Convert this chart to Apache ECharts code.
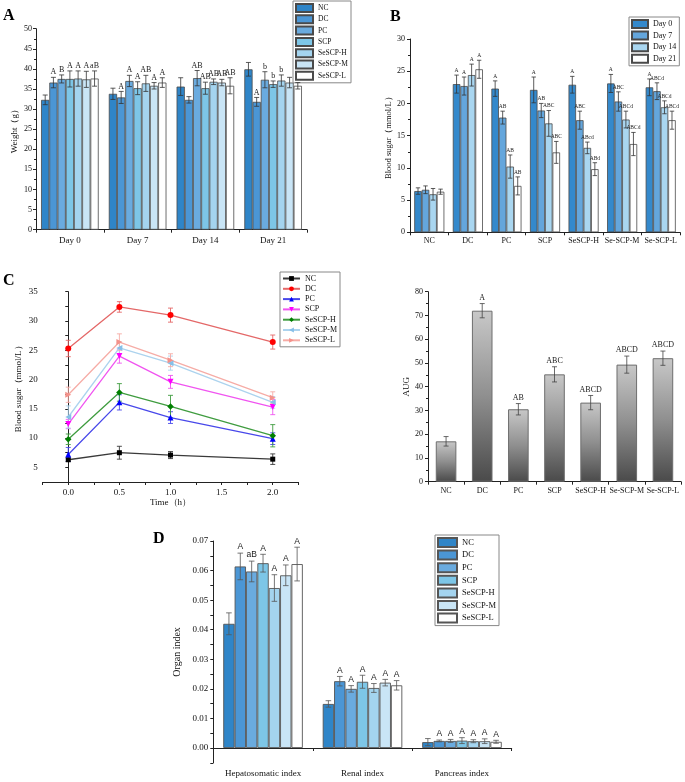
<!DOCTYPE html>
<html><head><meta charset="utf-8">
<script src="https://cdn.jsdelivr.net/npm/echarts@6/dist/echarts.min.js"></script>
<style>html,body{margin:0;padding:0;background:#fff}#c{width:685px;height:782px}</style>
</head><body><div id="c"></div>
<script>
// ---------- DATA ----------
const groupNames = ['NC','DC','PC','SCP','SeSCP-H','SeSCP-M','SeSCP-L'];

// Panel A: body weight (g)
const weightDays = ['Day 0','Day 7','Day 14','Day 21'];
const weightNC  = [32.3, 33.8, 35.6, 39.9];
const weightDC  = [36.6, 32.9, 32.3, 31.8];
const weightPC  = [37.5, 37.0, 37.7, 37.3];
const weightSCP = [37.5, 35.2, 35.2, 36.2];
const weightH   = [37.6, 36.4, 36.8, 37.1];
const weightM   = [37.4, 35.8, 36.6, 36.6];
const weightL   = [37.6, 36.6, 35.8, 35.8];
const weightErrNC  = [1.2, 1.4, 2.2, 1.7];
const weightErrDC  = [1.3, 1.5, 0.8, 1.1];
const weightErrPC  = [1.0, 1.4, 1.9, 2.0];
const weightErrSCP = [2.0, 1.6, 1.5, 0.8];
const weightErrH   = [1.9, 2.0, 0.7, 1.4];
const weightErrM   = [2.0, 0.8, 0.8, 1.3];
const weightErrL   = [1.9, 1.2, 2.0, 0.8];
const weightLblNC  = ['', '', '', ''];
const weightLblDC  = ['A', 'A', '', 'A'];
const weightLblPC  = ['B', 'A', 'AB', 'b'];
const weightLblSCP = ['A', 'A', 'AB', 'b'];
const weightLblH   = ['A', 'AB', 'AB', 'b'];
const weightLblM   = ['A', 'A', 'AB', ''];
const weightLblL   = ['aB', 'A', 'AB', ''];

// Panel B: blood sugar by group and day (mmol/L)
const sugarGroups = ['NC','DC','PC','SCP','SeSCP-H','Se-SCP-M','Se-SCP-L'];
const dayNames = ['Day 0','Day 7','Day 14','Day 21'];
const sugarDay0  = [6.4, 23.0, 22.3, 22.1, 22.9, 23.1, 22.5];
const sugarDay7  = [6.6, 22.7, 17.8, 18.9, 17.4, 20.3, 21.9];
const sugarDay14 = [5.9, 24.4, 10.2, 16.9, 13.1, 17.5, 19.4];
const sugarDay21 = [6.3, 25.3, 7.2, 12.4, 9.8, 13.7, 17.4];
const sugarErrDay0  = [0.5, 1.4, 1.2, 2.0, 1.3, 1.4, 1.3];
const sugarErrDay7  = [0.6, 1.4, 1.0, 1.1, 1.4, 1.5, 1.3];
const sugarErrDay14 = [0.9, 1.7, 1.8, 2.0, 0.9, 1.3, 1.0];
const sugarErrDay21 = [0.4, 1.4, 1.4, 1.7, 1.0, 1.8, 1.4];
const sugarLblDay0  = ['', 'A', 'A', 'A', 'A', 'A', 'A'];
const sugarLblDay7  = ['', 'A', 'AB', 'AB', 'ABC', 'ABC', 'ABCd'];
const sugarLblDay14 = ['', 'A', 'AB', 'ABC', 'ABcd', 'ABCd', 'ABCd'];
const sugarLblDay21 = ['', 'A', 'AB', 'ABC', 'ABd', 'ABCd', 'ABCd'];

// Panel C: OGTT blood sugar (mmol/L)
const ogttTimes = [0, 0.5, 1.0, 2.0];
const ogttNC  = [6.3, 7.5, 7.1, 6.4];
const ogttDC  = [25.3, 32.4, 31.0, 26.4];
const ogttPC  = [7.2, 16.1, 13.5, 9.9];
const ogttSCP = [12.4, 24.0, 19.6, 15.3];
const ogttH   = [9.8, 17.8, 15.4, 10.4];
const ogttM   = [13.6, 25.4, 22.8, 16.1];
const ogttL   = [17.4, 26.4, 23.3, 16.9];
const ogttErrNC  = [0.3, 1.1, 0.6, 0.9];
const ogttErrDC  = [1.4, 0.9, 1.2, 1.2];
const ogttErrPC  = [1.2, 1.3, 1.0, 1.0];
const ogttErrSCP = [0.8, 1.2, 1.1, 1.3];
const ogttErrH   = [0.9, 1.5, 1.9, 1.9];
const ogttErrM   = [1.9, 1.0, 1.2, 1.0];
const ogttErrL   = [1.3, 1.4, 1.1, 1.0];

// Panel AUG
const augGroups = ['NC','DC','PC','SCP','SeSCP-H','Se-SCP-M','Se-SCP-L'];
const augValues = [17.0, 72.0, 30.5, 45.2, 33.3, 49.3, 52.0];
const augErrors = [2.0, 3.0, 2.4, 3.2, 3.0, 3.6, 3.0];
const augLabels = ['', 'A', 'AB', 'ABC', 'ABCD', 'ABCD', 'ABCD'];

// Panel D: organ index
const organNames = ['Hepatosomatic index','Renal index','Pancreas index'];
const organNC  = [0.0420, 0.0149, 0.0020];
const organDC  = [0.0614, 0.0226, 0.0024];
const organPC  = [0.0597, 0.0200, 0.0024];
const organSCP = [0.0625, 0.0224, 0.0025];
const organH   = [0.0541, 0.0203, 0.0023];
const organM   = [0.0584, 0.0221, 0.0023];
const organL   = [0.0622, 0.0212, 0.0021];
const organErrNC  = [0.0037, 0.0011, 0.0012];
const organErrDC  = [0.0045, 0.0016, 0.0003];
const organErrPC  = [0.0035, 0.0011, 0.0005];
const organErrSCP = [0.0030, 0.0022, 0.0010];
const organErrH   = [0.0045, 0.0015, 0.0005];
const organErrM   = [0.0035, 0.0011, 0.0008];
const organErrL   = [0.0057, 0.0016, 0.0005];
const organLblNC  = ['', '', ''];
const organLblDC  = ['A', 'A', 'A'];
const organLblPC  = ['aB', 'A', 'A'];
const organLblSCP = ['A', 'A', 'A'];
const organLblH   = ['A', 'A', 'A'];
const organLblM   = ['A', 'A', 'A'];
const organLblL   = ['A', 'A', 'A'];

// ---------- STYLE ----------
const SERIF = 'Liberation Serif';
const barColors = ['#2f85c8','#4b96d5','#6aabdf','#7dc6e7','#a4d4ef','#c9e5f6','#ffffff'];
const dayColors = ['#3489cc','#64a6dc','#a9d6f0','#ffffff'];
const markColors = ['#000000','#ff0000','#0000ff','#ff00ff','#008000','#86bfe8','#f4918a'];
const lineColors = ['#3a3a3a','#e46868','#4848ea','#f055f0','#3f9c3f','#acd3ee','#f6aca6'];
const symbols = ['rect','circle','triangle','path://M0,0L10,0L5,9Z','diamond','path://M9,0L9,10L0,5Z','path://M0,0L0,10L9,5Z'];

const weightMeans = [weightNC, weightDC, weightPC, weightSCP, weightH, weightM, weightL];
const weightErrs = [weightErrNC, weightErrDC, weightErrPC, weightErrSCP, weightErrH, weightErrM, weightErrL];
const weightLbls = [weightLblNC, weightLblDC, weightLblPC, weightLblSCP, weightLblH, weightLblM, weightLblL];
const sugarMeans = [sugarDay0, sugarDay7, sugarDay14, sugarDay21];
const sugarErrs = [sugarErrDay0, sugarErrDay7, sugarErrDay14, sugarErrDay21];
const sugarLbls = [sugarLblDay0, sugarLblDay7, sugarLblDay14, sugarLblDay21];
const ogttMeans = [ogttNC, ogttDC, ogttPC, ogttSCP, ogttH, ogttM, ogttL];
const ogttErrs = [ogttErrNC, ogttErrDC, ogttErrPC, ogttErrSCP, ogttErrH, ogttErrM, ogttErrL];
const organMeans = [organNC, organDC, organPC, organSCP, organH, organM, organL];
const organErrs = [organErrNC, organErrDC, organErrPC, organErrSCP, organErrH, organErrM, organErrL];
const organLbls = [organLblNC, organLblDC, organLblPC, organLblSCP, organLblH, organLblM, organLblL];

function errSeries(ax, means, errs, lbls, opt) {
  const data = [], labels = [];
  means.forEach((arr, si) => arr.forEach((v, ci) => {
    data.push([ci, v, errs[si][ci], si]);
    labels.push(lbls ? lbls[si][ci] : '');
  }));
  return {
    type: 'custom', xAxisIndex: ax, yAxisIndex: ax, silent: true, clip: false, z: 10,
    data: data,
    renderItem: function (params, api) {
      const cat = api.value(0), m = api.value(1), e = api.value(2), si = api.value(3);
      const c = api.coord([cat, m]);
      const band = api.size([1, 0])[0];
      const gw = band * (1 - opt.gap);
      const bw = gw / opt.n;
      const x = c[0] - gw / 2 + bw * (si + 0.5);
      const yt = api.coord([cat, m + e])[1], yb = api.coord([cat, m - e])[1];
      const st = { stroke: opt.color, lineWidth: opt.lw };
      const cap = opt.cap;
      const ch = [
        { type: 'line', shape: { x1: x, y1: yt, x2: x, y2: yb }, style: st },
        { type: 'line', shape: { x1: x - cap, y1: yt, x2: x + cap, y2: yt }, style: st },
        { type: 'line', shape: { x1: x - cap, y1: yb, x2: x + cap, y2: yb }, style: st }
      ];
      const t = labels[params.dataIndex];
      if (t) ch.push({ type: 'text', x: x, y: yt - opt.lgap,
        style: { text: t, fill: '#222', font: opt.font, align: 'center', verticalAlign: 'bottom',
                 textAlign: 'center', textVerticalAlign: 'bottom' } });
      return { type: 'group', children: ch };
    }
  };
}

function lineErrSeries(ax, xs, vals, errs, color) {
  return {
    type: 'custom', xAxisIndex: ax, yAxisIndex: ax, silent: true, clip: false, z: 3,
    data: xs.map((x, i) => [x, vals[i], errs[i]]),
    renderItem: function (params, api) {
      const x = api.coord([api.value(0), api.value(1)])[0];
      const yt = api.coord([api.value(0), api.value(1) + api.value(2)])[1];
      const yb = api.coord([api.value(0), api.value(1) - api.value(2)])[1];
      const st = { stroke: color, lineWidth: 0.9 };
      return { type: 'group', children: [
        { type: 'line', shape: { x1: x, y1: yt, x2: x, y2: yb }, style: st },
        { type: 'line', shape: { x1: x - 2.5, y1: yt, x2: x + 2.5, y2: yt }, style: st },
        { type: 'line', shape: { x1: x - 2.5, y1: yb, x2: x + 2.5, y2: yb }, style: st }
      ] };
    }
  };
}

const axLine = { show: true, lineStyle: { color: '#222', width: 1 } };
const tickOut = { show: true, length: 3, lineStyle: { color: '#222', width: 1 } };
const minorT = { show: true, splitNumber: 2, length: 2, lineStyle: { color: '#222', width: 1 } };

function catX(grid, cats, fs, margin) {
  return { type: 'category', gridIndex: grid, data: cats, axisLine: axLine, axisTick: tickOut,
    axisLabel: { interval: 0, fontSize: fs, color: '#111', margin: margin, fontFamily: SERIF },
    splitLine: { show: false } };
}

const series = [];
// A bars
weightMeans.forEach((arr, i) => series.push({
  type: 'bar', name: groupNames[i] + '|A', xAxisIndex: 0, yAxisIndex: 0, data: arr,
  barGap: '0%', barCategoryGap: '15%',
  itemStyle: { color: barColors[i], borderColor: '#4a4a4a', borderWidth: 0.8 },
  emphasis: { disabled: true }
}));
series.push(errSeries(0, weightMeans, weightErrs, weightLbls,
  { n: 7, gap: 0.15, color: '#333', lw: 0.8, cap: 2.5, lgap: 1, font: '8px "Liberation Serif"' }));
// B bars
sugarMeans.forEach((arr, i) => series.push({
  type: 'bar', name: dayNames[i] + '|B', xAxisIndex: 1, yAxisIndex: 1, data: arr,
  barGap: '0%', barCategoryGap: '22%',
  itemStyle: { color: dayColors[i], borderColor: '#4a4a4a', borderWidth: 0.8 },
  emphasis: { disabled: true }
}));
series.push(errSeries(1, sugarMeans, sugarErrs, sugarLbls,
  { n: 4, gap: 0.22, color: '#333', lw: 0.8, cap: 2.2, lgap: 1.5, font: '5.5px "Liberation Serif"' }));
// C lines
ogttMeans.forEach((arr, i) => {
  series.push(lineErrSeries(2, ogttTimes, arr, ogttErrs[i], lineColors[i]));
  series.push({
    type: 'line', name: groupNames[i] + '|C', xAxisIndex: 2, yAxisIndex: 2,
    data: ogttTimes.map((t, k) => [t, arr[k]]),
    symbol: symbols[i], symbolSize: i === 0 ? 5 : (i === 4 ? 6.5 : 6),
    itemStyle: { color: markColors[i] }, lineStyle: { color: lineColors[i], width: 1.3 },
    emphasis: { disabled: true }, z: 5
  });
});
// AUG bars
series.push({
  type: 'bar', name: 'AUG', xAxisIndex: 3, yAxisIndex: 3, data: augValues,
  barCategoryGap: '43%',
  itemStyle: {
    color: new echarts.graphic.LinearGradient(0, 0, 0, 1, [
      { offset: 0, color: '#c8c8c8' }, { offset: 0.5, color: '#8f8f8f' }, { offset: 1, color: '#4a4a4a' }]),
    borderColor: '#6e6e6e', borderWidth: 1
  },
  emphasis: { disabled: true }
});
series.push(errSeries(3, [augValues], [augErrors], [augLabels],
  { n: 1, gap: 0.43, color: '#444', lw: 0.8, cap: 2.5, lgap: 2, font: '8px "Liberation Serif"' }));
// D bars
organMeans.forEach((arr, i) => series.push({
  type: 'bar', name: groupNames[i] + '|D', xAxisIndex: 4, yAxisIndex: 4, data: arr,
  barGap: '0%', barCategoryGap: '20%',
  itemStyle: { color: barColors[i], borderColor: '#555', borderWidth: 0.9 },
  emphasis: { disabled: true }
}));
series.push(errSeries(4, organMeans, organErrs, organLbls,
  { n: 7, gap: 0.20, color: '#555', lw: 0.8, cap: 2.8, lgap: 1.5, font: '8.5px "Liberation Sans"' }));

const legendBase = {
  orient: 'vertical', borderColor: '#888', borderWidth: 1, backgroundColor: '#fff',
  textStyle: { fontFamily: SERIF, fontSize: 7.5, color: '#111', lineHeight: 9 },
  formatter: n => n.split('|')[0], selectedMode: false
};

const option = {
  animation: false,
  textStyle: { fontFamily: SERIF },
  grid: [
    { left: 36, top: 28.7, width: 271, height: 201 },
    { left: 410, top: 39, width: 270, height: 193.3 },
    { left: 42.7, top: 291.7, width: 255.6, height: 190.3 },
    { left: 428, top: 291.7, width: 253, height: 190 },
    { left: 213.3, top: 541, width: 298.4, height: 221.8 }
  ],
  xAxis: [
    catX(0, weightDays, 9, 6),
    catX(1, sugarGroups, 8, 5),
    { type: 'value', gridIndex: 2, min: -0.25, max: 2.25, interval: 0.25,
      axisLine: axLine, axisTick: tickOut,
      axisLabel: { fontSize: 9, color: '#111', margin: 6,
        formatter: v => (Math.abs(Math.round(v * 4)) % 2 === 0 && v >= 0 && v <= 2) ? v.toFixed(1) : '' },
      splitLine: { show: false },
      name: 'Time（h）', nameLocation: 'middle', nameGap: 15,
      nameTextStyle: { fontSize: 9, color: '#111' } },
    catX(3, augGroups, 8, 5),
    catX(4, organNames, 9, 6)
  ],
  yAxis: [
    { type: 'value', gridIndex: 0, min: 0, max: 50, interval: 5, axisLine: axLine, axisTick: tickOut,
      minorTick: minorT, splitLine: { show: false }, minorSplitLine: { show: false },
      axisLabel: { fontSize: 8, color: '#111', margin: 4 },
      name: 'Weight（g）', nameLocation: 'middle', nameGap: 17, nameTextStyle: { fontSize: 9, color: '#111' } },
    { type: 'value', gridIndex: 1, min: 0, max: 30, interval: 5, axisLine: axLine, axisTick: tickOut,
      minorTick: minorT, splitLine: { show: false },
      axisLabel: { fontSize: 8, color: '#111', margin: 5 },
      name: 'Blood sugar（mmol/L）', nameLocation: 'middle', nameGap: 14, nameTextStyle: { fontSize: 8.5, color: '#111' } },
    { type: 'value', gridIndex: 2, min: 2.5, max: 35, interval: 2.5, axisLine: axLine, axisTick: tickOut,
      splitLine: { show: false },
      axisLabel: { fontSize: 9, color: '#111', margin: 5,
        formatter: v => (Math.round(v * 2) % 10 === 0) ? String(Math.round(v)) : '' },
      name: 'Blood sugar（mmol/L）', nameLocation: 'middle', nameGap: 20, nameTextStyle: { fontSize: 9, color: '#111' } },
    { type: 'value', gridIndex: 3, min: 0, max: 80, interval: 10, axisLine: axLine, axisTick: tickOut,
      minorTick: minorT, splitLine: { show: false },
      axisLabel: { fontSize: 8, color: '#111', margin: 5 },
      name: 'AUG', nameLocation: 'middle', nameGap: 17, nameTextStyle: { fontSize: 9, color: '#111' } },
    { type: 'value', gridIndex: 4, min: -0.005, max: 0.07, interval: 0.005, axisLine: axLine, axisTick: tickOut,
      splitLine: { show: false },
      axisLabel: { fontSize: 9, color: '#111', margin: 5,
        formatter: v => (Math.abs(Math.round(v * 1000)) % 10 === 0) ? v.toFixed(2) : '' },
      name: 'Organ index', nameLocation: 'middle', nameGap: 31, nameTextStyle: { fontSize: 10, color: '#111' } }
  ],
  legend: [
    Object.assign({}, legendBase, { left: 293, top: 1, padding: [2, 3, 2, 2], itemWidth: 17, itemHeight: 8, itemGap: 1.3,
      data: groupNames.map(n => n + '|A'), icon: 'rect' }),
    Object.assign({}, legendBase, { left: 629, top: 17, padding: [2, 3, 2, 2], itemWidth: 16, itemHeight: 8, itemGap: 1.6,
      data: dayNames.map(n => n + '|B'), icon: 'rect',
      textStyle: { fontFamily: SERIF, fontSize: 8, color: '#111', lineHeight: 9 } }),
    Object.assign({}, legendBase, { left: 280, top: 272, padding: [2, 3, 2, 2], itemWidth: 17, itemHeight: 6, itemGap: 1.3,
      data: groupNames.map(n => n + '|C'), textStyle: { fontFamily: SERIF, fontSize: 8, color: '#111', lineHeight: 9 } }),
    Object.assign({}, legendBase, { left: 435, top: 535, padding: [2, 3, 2, 2], itemWidth: 19, itemHeight: 9, itemGap: 1.6,
      data: groupNames.map(n => n + '|D'), icon: 'rect',
      textStyle: { fontFamily: SERIF, fontSize: 8.5, color: '#111', lineHeight: 9.5 } })
  ],
  graphic: [
    { type: 'text', left: 3, top: 8, style: { text: 'A', font: 'bold 16px "Liberation Serif"', fill: '#000' } },
    { type: 'text', left: 390, top: 9, style: { text: 'B', font: 'bold 16px "Liberation Serif"', fill: '#000' } },
    { type: 'text', left: 3, top: 273, style: { text: 'C', font: 'bold 16px "Liberation Serif"', fill: '#000' } },
    { type: 'text', left: 153, top: 531, style: { text: 'D', font: 'bold 16px "Liberation Serif"', fill: '#000' } }
  ],
  series: series
};

const chart = echarts.init(document.getElementById('c'), null, { renderer: 'canvas' });
chart.setOption(option);
</script>
</body></html>
